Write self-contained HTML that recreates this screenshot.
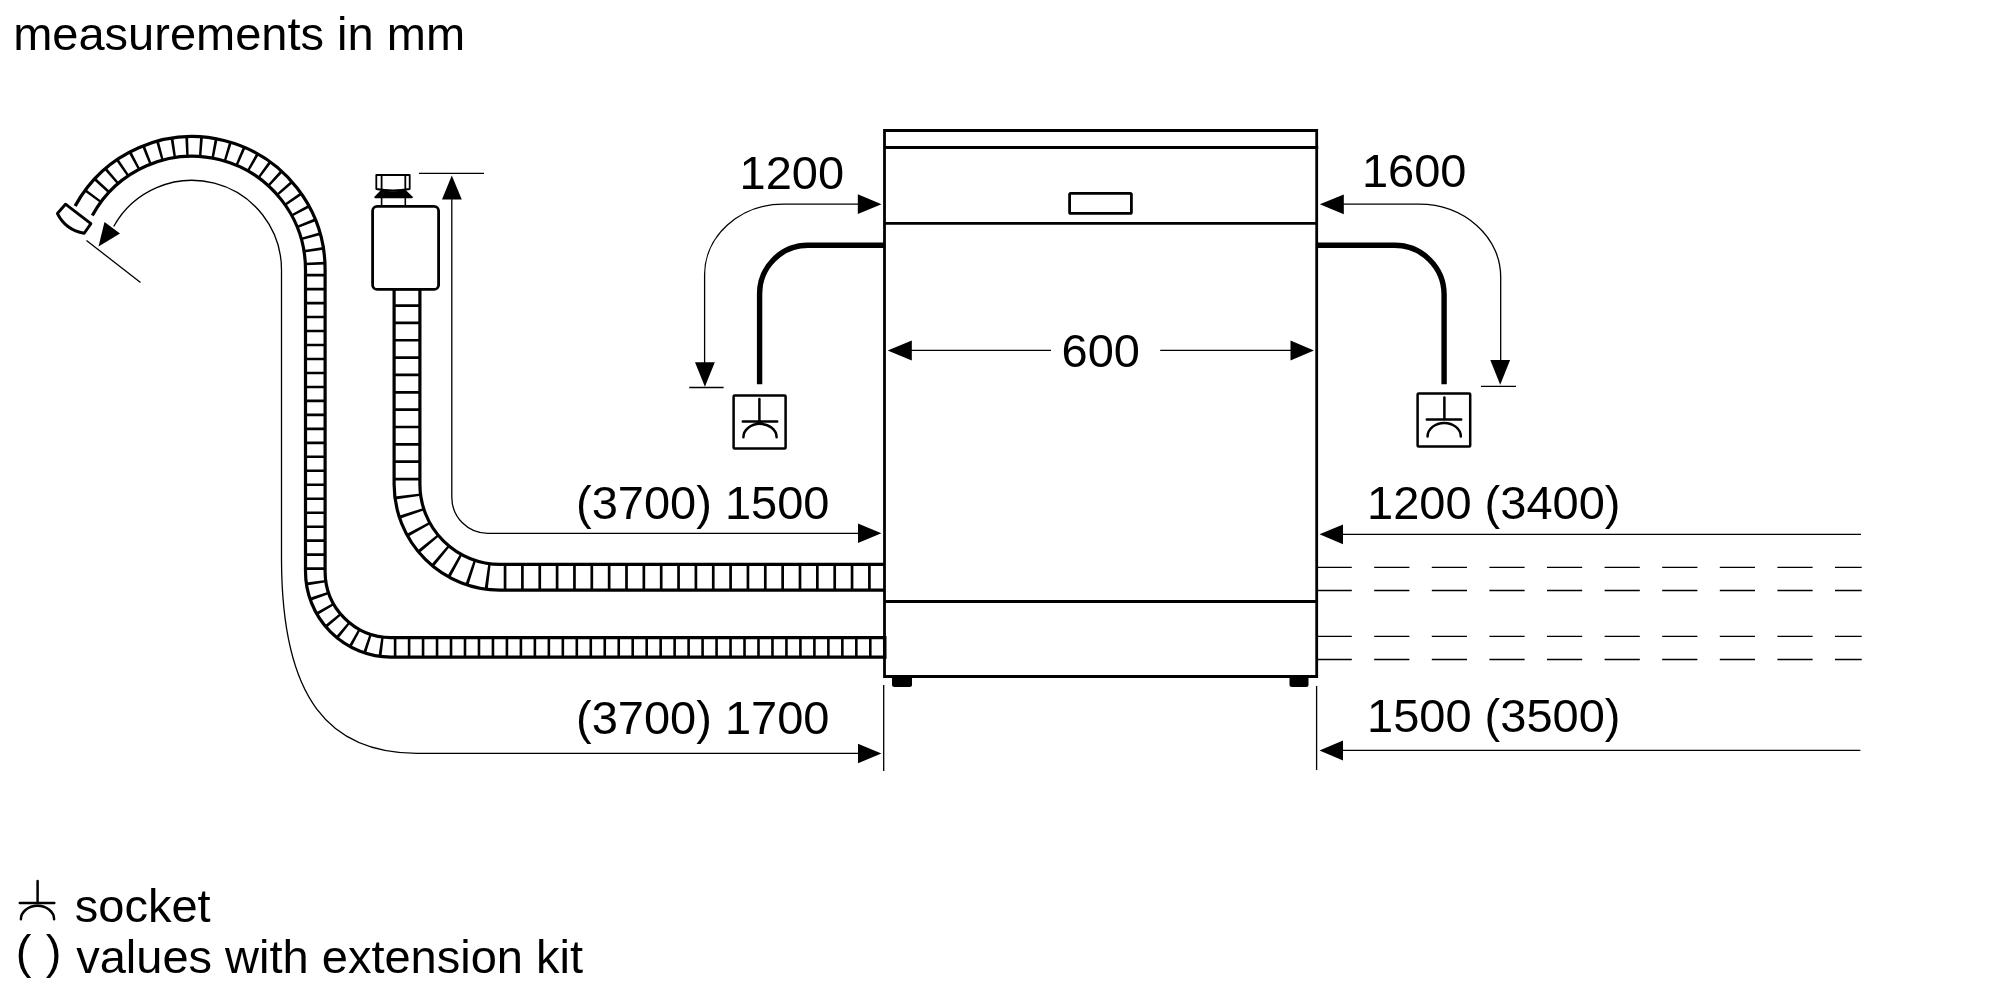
<!DOCTYPE html>
<html>
<head>
<meta charset="utf-8">
<style>
html,body{margin:0;padding:0;background:#fff;width:2000px;height:1000px;overflow:hidden}
svg{position:absolute;left:0;top:0;display:block}
text{font-family:"Liberation Sans",sans-serif;font-size:47px;fill:#000}
svg{will-change:transform}
</style>
</head>
<body>
<svg width="2000" height="1000" viewBox="0 0 2000 1000">
<rect x="0" y="0" width="2000" height="1000" fill="#fff"/>

<!-- texts -->
<text x="13.2" y="50">measurements in mm</text>
<text x="739.6" y="189">1200</text>
<text x="1361.9" y="187.3">1600</text>
<text x="1061.6" y="367">600</text>
<text x="576" y="519" xml:space="preserve">(3700) 1500</text>
<text x="576" y="734" xml:space="preserve">(3700) 1700</text>
<text x="1367" y="518.7" xml:space="preserve">1200 (3400)</text>
<text x="1367" y="732.3" xml:space="preserve">1500 (3500)</text>
<text x="74.8" y="922.2">socket</text>
<text x="15.75" y="968">(</text><text x="45.8" y="968">)</text>
<text x="76.2" y="972.5">values with extension kit</text>

<!-- thin dimension lines -->
<g fill="none" stroke="#000" stroke-width="1.3">
  <!-- 600 -->
  <path d="M905 350.4 H1051"/>
  <path d="M1160.2 350.4 H1296"/>
  <!-- 1200 left arc -->
  <path d="M860 204.2 H783.4 A78.8 70.4 0 0 0 704.6 274.6 V365"/>
  <path d="M689.2 387.5 H723.6"/>
  <!-- 1600 right arc -->
  <path d="M1340 204.2 H1418.8 A82 72.6 0 0 1 1500.7 276.8 V362"/>
  <path d="M1480.9 386.4 H1516"/>
  <!-- 1500 inlet dim -->
  <path d="M451.8 196 V497.3 A36 36 0 0 0 487.8 533.3 H862"/>
  <path d="M419 173.4 H484"/>
  <!-- 1700 drain dim -->
  <path d="M113.7 226.5 A89.5 89.5 0 0 1 281.5 269.8 V560 C282 700 330 753 417 753.3 H862"/>
  <path d="M86.5 240.5 L140.5 282.5"/>
  <!-- right dims -->
  <path d="M1340 534.3 H1861"/>
  <path d="M1340 750.4 H1860.4"/>
  <path d="M883.7 685 V771"/>
  <path d="M1316.6 686 V770"/>
</g>
<!-- dashed lines -->
<g fill="none" stroke="#000" stroke-width="1.4" stroke-dasharray="35.2 22.4">
  <path d="M1316.6 567.4 H1861.7"/>
  <path d="M1316.6 590.5 H1861.7"/>
  <path d="M1316.6 636.4 H1861.7"/>
  <path d="M1316.6 659.5 H1861.7"/>
</g>

<!-- arrowheads -->
<g fill="#000">
  <path d="M881.5 204.3 L857.8 194.3 L857.8 214.1 Z"/>
  <path d="M1319.8 204.3 L1343.8 194.4 L1343.8 214.2 Z"/>
  <path d="M887.6 350.4 L911.8 340.6 L911.8 360.4 Z"/>
  <path d="M1313.9 350.4 L1290.5 340.6 L1290.5 360.4 Z"/>
  <path d="M704.9 386.8 L695 362.2 L714.8 362.2 Z"/>
  <path d="M1500.2 384.8 L1490.3 360 L1510.1 360 Z"/>
  <path d="M451.8 175.4 L442 199.6 L461.8 199.6 Z"/>
  <path d="M881.4 533.3 L858 523.6 L858 543.1 Z"/>
  <path d="M881.4 753.4 L858 743.8 L858 763.3 Z"/>
  <path d="M1319.5 534.3 L1343 524.4 L1343 544.2 Z"/>
  <path d="M1319.5 750.4 L1343 740.6 L1343 760.4 Z"/>
  <path d="M98.5 246.5 L104.5 222 L120 233.5 Z"/>
</g>

<!-- power cords -->
<g fill="none" stroke="#000" stroke-width="5.4">
  <path d="M884.5 245.3 H808 A48.4 48.4 0 0 0 759.6 294 V384.2"/>
  <path d="M1316.6 245.3 H1394.6 A49.5 49.5 0 0 1 1444.1 295.1 V384.2"/>
</g>

<!-- sockets -->
<g fill="none" stroke="#000" stroke-width="2.5" stroke-linecap="round">
  <rect x="733.6" y="395.4" width="52" height="53" rx="1"/>
  <path d="M759.4 399 V421.4 M742.8 421.4 H777.2 M743.4 437.3 A16.6 13.5 0 0 1 776.6 437.3"/>
  <rect x="1417.6" y="393.6" width="52.6" height="52.8" rx="1"/>
  <path d="M1444.4 397.6 V419.4 M1426.8 419.4 H1461.2 M1427.6 436.4 A16.6 13.5 0 0 1 1460.8 436.4"/>
  <!-- legend symbol -->
  <path d="M37.6 881 V903 M19.8 903 H54.3 M20.9 919.2 A16.6 13.5 0 0 1 54.1 919.2"/>
</g>

<!-- hoses -->
<g fill="none">
  <!-- outer drain hose -->
  <path d="M885 647.4 H391 A76 76 0 0 1 315.3 571.4 V269.8 A123.3 123.3 0 0 0 83.7 210.8" stroke="#000" stroke-width="22.8"/>
  <path d="M884 647.4 H391 A76 76 0 0 1 315.3 571.4 V269.8 A123.3 123.3 0 0 0 83.7 210.8 l-1.5 2.7" stroke="#fff" stroke-width="16.4"/>
  <path d="M885 647.4 H391 A76 76 0 0 1 315.3 571.4 V269.8" stroke="#000" stroke-width="19.6" stroke-dasharray="2.6 11.376" stroke-dashoffset="-13.4"/>
  <path d="M315.3 269.8 A123.3 123.3 0 0 0 90 199.5" stroke="#000" stroke-width="19.6" stroke-dasharray="2.6 11.2" stroke-dashoffset="-5"/>
  <path d="M885 636 V659" stroke="#000" stroke-width="3"/>
  <!-- inner supply hose -->
  <path d="M884 577.3 H500 A93 93 0 0 1 407 484.3 V288" stroke="#000" stroke-width="29"/>
  <path d="M884 577.3 H500 A93 93 0 0 1 407 484.3 V287" stroke="#fff" stroke-width="22.6"/>
  <path d="M884 577.3 H500 A93 93 0 0 1 407 484.3 V288" stroke="#000" stroke-width="25.8" stroke-dasharray="2.7 14.65" stroke-dashoffset="-13.25"/>
  <path d="M393.5 288.6 H421" stroke="#000" stroke-width="3.6"/>
</g>

<!-- dishwasher body -->
<g fill="none" stroke="#000" stroke-width="2.8">
  <path d="M884.5 676.5 V130.5 H1316.7 V676.5 Z"/>
  <path d="M884.5 147.5 H1318.2"/>
  <path d="M884.5 223.4 H1316.7"/>
  <path d="M884.5 601.5 H1316.7"/>
  <rect x="1069.6" y="193.4" width="61.8" height="20" rx="1.2"/>
</g>
<!-- feet -->
<path d="M892 677 H912 V684.5 Q912 687 909.5 687 H894.5 Q892 687 892 684.5 Z" fill="#000"/>
<path d="M1289.5 677 H1308.5 V684.5 Q1308.5 687 1306 687 H1292 Q1289.5 687 1289.5 684.5 Z" fill="#000"/>

<!-- nozzle -->
<path d="M65.5 204.2 L90.9 223.6 L84.2 233.3 Q65.7 230.1 57.4 213.5 Z" fill="#fff" stroke="#000" stroke-width="2.9" stroke-linejoin="round"/>

<!-- aquastop -->
<g fill="none" stroke="#000">
  <rect x="372.6" y="206.4" width="66" height="83" rx="4.5" stroke-width="2.8" fill="#fff"/>
  <path d="M381.6 197 V206 M405.3 197 V206" stroke-width="1.6"/>
  <path d="M376.3 189 V175 H409.7 V189 Q393 192 376.3 189 Z M381.6 175 V190 M405.3 175 V190" stroke-width="1.8" stroke-linejoin="round"/>
</g>
<path d="M381 190 Q393 192.5 405.6 190 L413 197 Q413 198.2 411.3 198.2 H375.7 Q374.2 198.2 374.2 197 Z" fill="#000"/>

</svg>
</body>
</html>
